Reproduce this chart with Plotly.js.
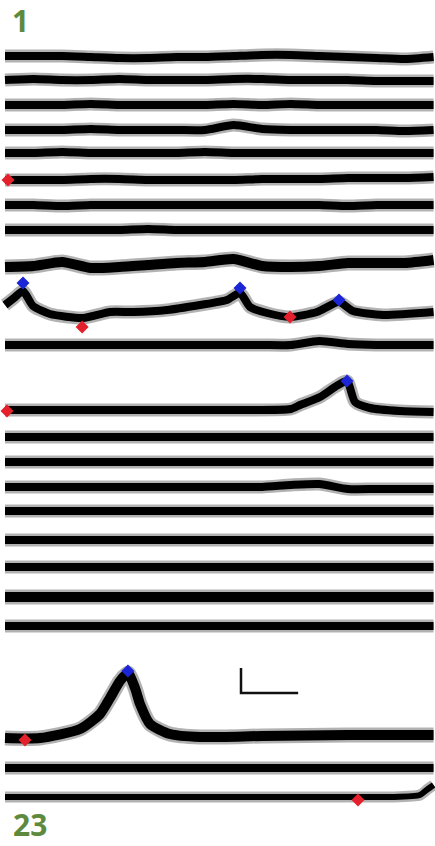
<!DOCTYPE html>
<html><head><meta charset="utf-8">
<script src="https://cdn.plot.ly/plotly-3.0.1.min.js"></script>
<style>html,body{margin:0;padding:0;background:#fff;}#chart{width:435px;height:846px;}</style>
</head><body><div id="chart"></div>
<script>
// ================= DATA (time in s, signal in dF/F) =================
const gridTime = [0,20,40,60,80,100,120,140,160,180,200,220,240,260,280,300];
const cell01 = [0.02,0.02,0.02,0,-0.02,-0.02,0,0,0.02,0.04,0.04,0.02,0,-0.02,-0.04,0];
const cell02 = [0,0.02,0,0,0.02,0,0,0,0.02,0.02,0,0,0,-0.02,-0.02,-0.02];
const cell03 = [0,0,0,0.02,0,0,0,0,0.02,0,0.02,0,0,0,0,0];
const cell04 = [0,0,0,0.02,0,0,0,0,0.1,0.02,0,0,0,0,-0.02,0];
const cell05 = [0,0,0.02,0,0,0,0,0.02,0,0,0,0,0,0,0,0];
const cell06 = [0,0,0,0.02,0.02,0,0,0,0,0.02,0.02,0.02,0.04,0.04,0.04,0.06];
const cell07 = [0,0,-0.02,0,0,0,0,0,0,0,0,0,-0.02,0,0,0];
const cell08 = [0,0,0,0,0,0.02,0,0,0,0,0,0,0,0,0,0];
const cell09 = [-0.04,-0.02,0.06,-0.06,-0.04,0,0.04,0.06,0.12,-0.02,-0.04,-0.02,0.04,0.04,0.04,0.1];
const cell10Time = [0,6.3,12.6,19.6,31.5,54.6,73.5,89.6,113.4,136.5,155.4,164.5,171.5,183.4,199.5,218.4,233.8,243.6,264.6,300];
const cell10 = [0.2,0.34,0.48,0.18,0.02,-0.06,0.06,0.06,0.1,0.2,0.3,0.44,0.16,0.04,-0.04,0.06,0.26,0.08,0,0.06];
const cell11 = [0,0,0,0,0,0,0,0,0,0,0,0.08,0.02,0,0,0];
const cell12Time = [0,40,80,120,160,200,206.5,220.5,231,239.4,245,255.5,276.5,300];
const cell12 = [0,0,0,0,0,0.02,0.1,0.26,0.46,0.58,0.16,0.04,-0.02,-0.04];
const cell13 = [0,0,0,0,0,0,0,0,0,0,0,0,0,0,0,0];
const cell14 = [0,0,0,0,0,0,0,0,0,0,0,0,0,0,0,0];
const cell15 = [0,0,0,0,0,0,0,0,0,0,0.04,0.06,-0.04,-0.04,-0.04,-0.04];
const cell16 = [0,0,0,0,0,0,0,0,0,0,0,0,0,0,0,0];
const cell17 = [0,0,0,0,0,0,0,0,0,0,0,0,0,0,0,0];
const cell18 = [0,0,0,0,0,0,0,0,0,0,0,0,0,0,0,0];
const cell19 = [0,0,0,0,0,0,0,0,0,0,0,0,0,0,0,0];
const cell20 = [0,0,0,0,0,0,0,0,0,0,0,0,0,0,0,0];
const cell21Time = [0,24.5,52.5,66.5,73.5,80.5,86,91,94.5,101.5,115.5,136.5,180,240,300];
const cell21 = [0,0,0.18,0.48,0.8,1.14,1.3,1.0,0.68,0.28,0.08,0.02,0.04,0.06,0.06];
const cell22 = [0,0,0,0,0,0,0,0,0,0,0,0,0,0,0,0];
const cell23Time = [0,40,80,120,160,200,240,270,290.5,296,300];
const cell23 = [0,0,0,0,0,0,0,0,0.04,0.16,0.24];
// event markers: onset (red) and peak (blue)
const onsetCell  = [6,10,10,12,21,23];
const onsetTime  = [2.1,54,199.5,1.4,14,247.1];
const onsetValue = [0,-0.24,-0.04,-0.02,-0.04,-0.06];
const peakCell   = [10,10,10,12,21];
const peakTime   = [12.6,164.5,233.8,239.4,86];
const peakValue  = [0.64,0.54,0.3,0.58,1.34];
// scale bar
const scaleBarTime = 40;   // s
const scaleBarDff  = 0.5;  // dF/F
const firstLabel = '1';
const lastLabel  = '23';

// ================= LAYOUT / STYLE =================
const W = 435, H = 846;
const pxPerUnit = 50;
const rowPx = [57,80,105,130,153,180,205,230,265,315,345,410,437,462,487,511,540,567,597,626,738,768,797];
const coreWidth = [8,8,8,8,8,8,8,8,10,8,8,8,8,8,8,8,8,8,10,8,10,8,6];
const offset = rowPx.map(p => -p / pxPerUnit);

const series = [
  [gridTime,cell01],[gridTime,cell02],[gridTime,cell03],[gridTime,cell04],[gridTime,cell05],
  [gridTime,cell06],[gridTime,cell07],[gridTime,cell08],[gridTime,cell09],[cell10Time,cell10],
  [gridTime,cell11],[cell12Time,cell12],[gridTime,cell13],[gridTime,cell14],[gridTime,cell15],
  [gridTime,cell16],[gridTime,cell17],[gridTime,cell18],[gridTime,cell19],[gridTime,cell20],
  [cell21Time,cell21],[gridTime,cell22],[cell23Time,cell23]
];

const traces = [];
series.forEach(([t, v], i) => {
  const y = v.map(d => d + offset[i]);
  traces.push({x: t, y: y, mode: 'lines', line: {color: 'rgba(0,0,0,0.3)', width: coreWidth[i] + 5, shape: 'spline', smoothing: 0.6}, hoverinfo: 'skip'});
  traces.push({x: t, y: y, mode: 'lines', line: {color: '#000', width: coreWidth[i], shape: 'spline', smoothing: 0.6}, hoverinfo: 'skip'});
});

// scale bar
const sbT = 165.2, sbY = -693 / pxPerUnit;
traces.push({x: [sbT, sbT, sbT + scaleBarTime], y: [sbY + scaleBarDff, sbY, sbY], mode: 'lines',
  line: {color: '#111', width: 2.5}, hoverinfo: 'skip'});

traces.push({x: onsetTime, y: onsetValue.map((v, k) => v + offset[onsetCell[k] - 1]), mode: 'markers',
  marker: {symbol: 'diamond', size: 10, color: '#e3202b'}, hoverinfo: 'skip'});
traces.push({x: peakTime, y: peakValue.map((v, k) => v + offset[peakCell[k] - 1]), mode: 'markers',
  marker: {symbol: 'diamond', size: 10, color: '#1b25d6'}, hoverinfo: 'skip'});

const labelFont = {family: 'Open Sans, sans-serif', size: 30, color: '#5e8a3e', weight: 'bold'};
const layout = {
  width: W, height: H,
  margin: {l: 0, r: 0, t: 0, b: 0},
  paper_bgcolor: '#fff', plot_bgcolor: '#fff',
  showlegend: false,
  xaxis: {range: [-3.5, 301], visible: false, fixedrange: true},
  yaxis: {range: [-H / pxPerUnit, 0], visible: false, fixedrange: true},
  annotations: [
    {xref: 'paper', yref: 'paper', x: 20 / W, y: 1 - 20 / H, text: firstLabel, showarrow: false, font: labelFont, xanchor: 'center', yanchor: 'middle', borderpad: 0},
    {xref: 'paper', yref: 'paper', x: 30 / W, y: 0, text: lastLabel, showarrow: false, font: labelFont, xanchor: 'center', yanchor: 'bottom', borderpad: 0}
  ]
};
Plotly.newPlot('chart', traces, layout, {staticPlot: true, displayModeBar: false});
</script></body></html>
